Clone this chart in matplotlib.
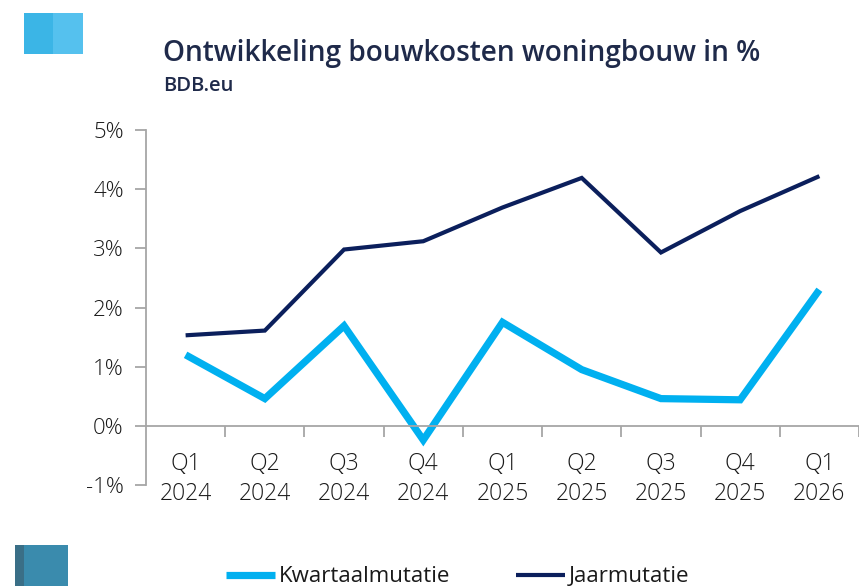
import matplotlib
matplotlib.use("Agg")
import matplotlib.pyplot as plt
from matplotlib.patches import Rectangle
import numpy as np

categories = ["Q1\n2024", "Q2\n2024", "Q3\n2024", "Q4\n2024", "Q1\n2025",
              "Q2\n2025", "Q3\n2025", "Q4\n2025", "Q1\n2026"]
kwartaal = [1.20, 0.46, 1.69, -0.24, 1.75, 0.95, 0.46, 0.44, 2.30]
jaar = [1.53, 1.61, 2.98, 3.12, 3.69, 4.19, 2.93, 3.63, 4.22]
yticks = [-1, 0, 1, 2, 3, 4, 5]
ytick_labels = ["-1%", "0%", "1%", "2%", "3%", "4%", "5%"]

LIGHT = "#00B0F0"
NAVY = "#0B1F5C"
TITLE = "#1F2A4A"
GREY = "#A6A6A6"
TXT = "#1A1A1A"

plt.rcParams['font.family'] = ['Open Sans', 'DejaVu Sans']

W, H = 859, 586
fig = plt.figure(figsize=(W / 100, H / 100), dpi=100)

left = 146 / W
bottom = 1 - 485 / H
height = (485 - 130) / H
width = (W - 146) / W
ax = fig.add_axes([left, bottom, width, height])

x = np.arange(len(categories))
ax.plot(x, kwartaal, color=LIGHT, lw=5.2, solid_capstyle='butt', solid_joinstyle='miter', label="Kwartaalmutatie")
ax.plot(x, jaar, color=NAVY, lw=3.0, solid_capstyle='butt', solid_joinstyle='miter', label="Jaarmutatie")

ax.set_xlim(-0.5, -0.5 + (W - 146) / 80)
ax.set_ylim(-1, 5)

for s in ["top", "right"]:
    ax.spines[s].set_visible(False)
ax.spines["bottom"].set_position(("data", 0))
ax.spines["bottom"].set_color(GREY)
ax.spines["left"].set_color(GREY)
ax.spines["bottom"].set_linewidth(1.3)
ax.spines["left"].set_linewidth(1.3)

ax.set_yticks(yticks)
ax.set_yticklabels(ytick_labels)
ax.tick_params(axis='y', length=8, width=1.3, color=GREY, direction='out', pad=8,
               labelsize=16, labelcolor=TXT)

ax.set_xticks(x)
ax.set_xticklabels(categories, linespacing=1.3)
ax.set_xticks(np.arange(len(categories)) + 0.5, minor=True)
ax.tick_params(axis='x', which='major', length=0, pad=19, labelsize=16.5, labelcolor=TXT)
ax.tick_params(axis='x', which='minor', length=8, width=1.3, color=GREY, direction='out')
for t in ax.get_xticklabels() + ax.get_yticklabels():
    t.set_fontweight('light')

fig.text(163 / W, 1 - 53 / H, "Ontwikkeling bouwkosten woningbouw in %", fontsize=20.2,
         color=TITLE, va='center', ha='left', fontweight='semibold')
fig.text(163 / W, 1 - 86 / H, "BDB.eu", fontsize=14.5, color=TITLE, va='center',
         ha='left', fontweight='semibold')

fig.patches.append(Rectangle((24 / W, 1 - 54 / H), 29 / W, 41 / H, transform=fig.transFigure,
                             color="#3BB5E6", lw=0))
fig.patches.append(Rectangle((53 / W, 1 - 54 / H), 30 / W, 41 / H, transform=fig.transFigure,
                             color="#55C1EE", lw=0))
fig.patches.append(Rectangle((15 / W, 0), 9 / W, 41 / H, transform=fig.transFigure,
                             color="#3A6F87", lw=0))
fig.patches.append(Rectangle((24 / W, 0), 44 / W, 41 / H, transform=fig.transFigure,
                             color="#3A8BAD", lw=0))

leg = fig.legend(loc='center left', bbox_to_anchor=(226 / W, 1 - 577 / H), ncol=2,
                 frameon=False, fontsize=16, handlelength=2.2, handletextpad=0.18,
                 columnspacing=2.95, borderaxespad=0, borderpad=0)
for t in leg.get_texts():
    t.set_color(TXT)

fig.savefig("out.png", dpi=100)
